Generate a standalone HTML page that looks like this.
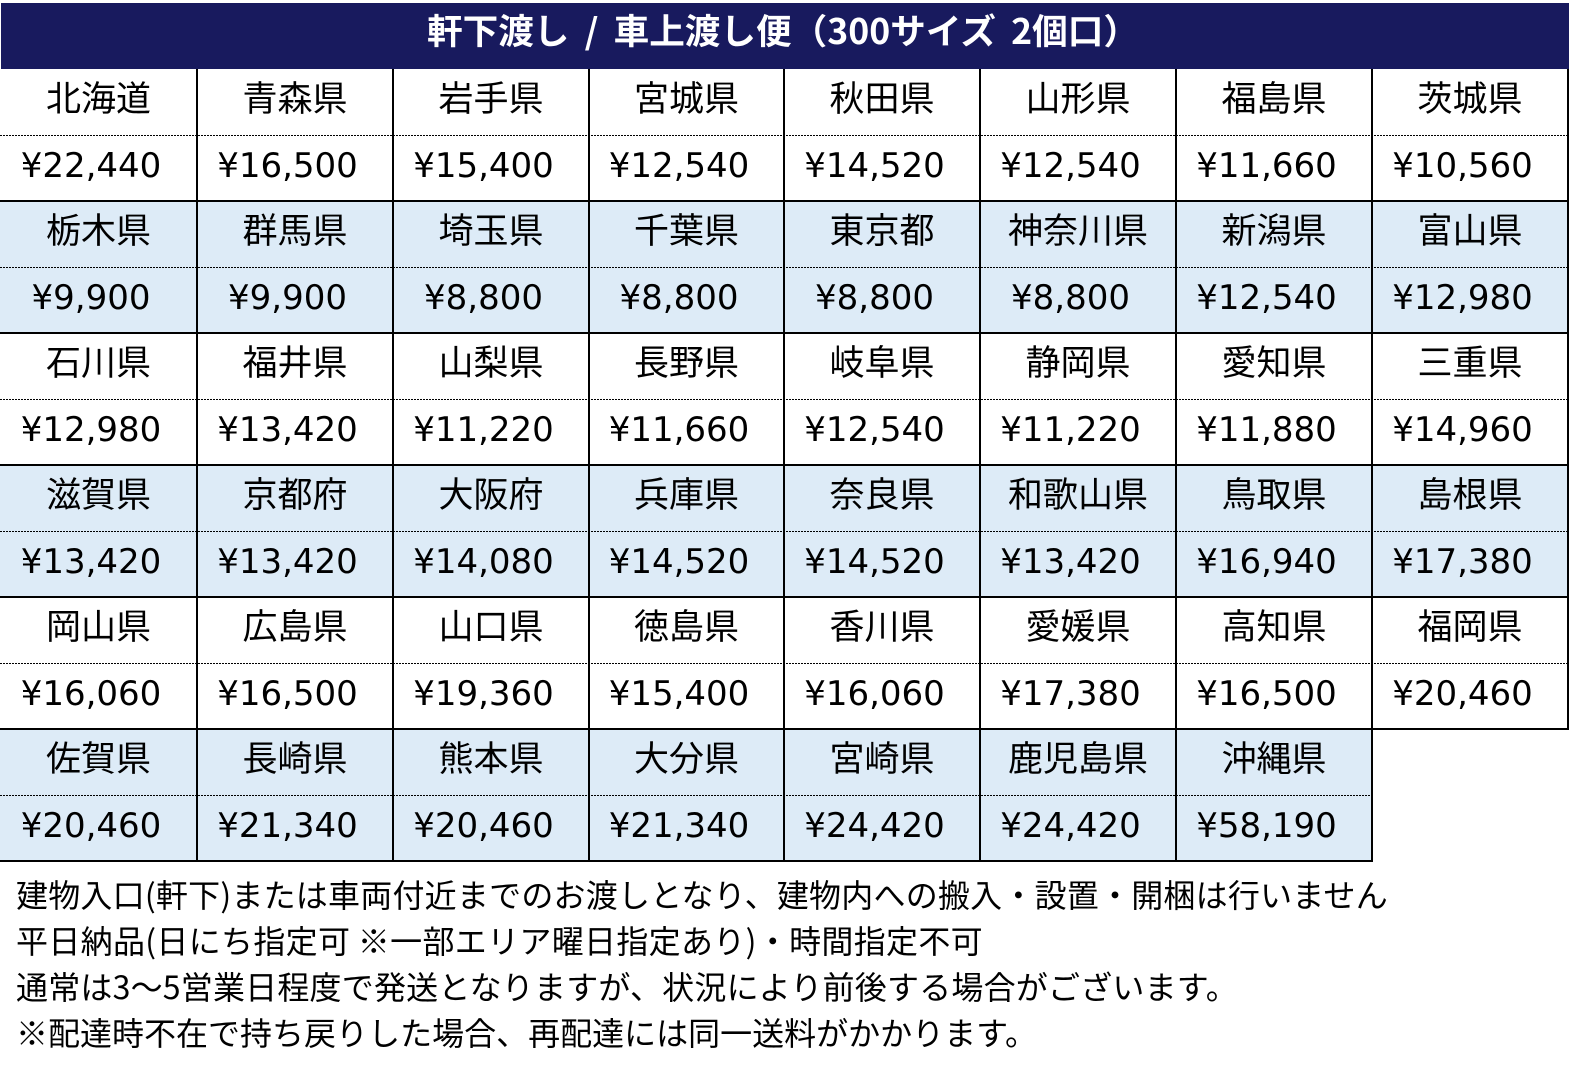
<!DOCTYPE html>
<html lang="ja">
<head>
<meta charset="utf-8">
<style>
*{margin:0;padding:0;box-sizing:border-box}
html,body{width:1575px;height:1077px;background:#fff;overflow:hidden}
body{position:relative;font-family:"Liberation Sans","Noto Sans CJK JP",sans-serif;color:#000}
.abs{position:absolute}
.hdr{position:absolute;left:1px;top:3px;width:1568px;height:66px;background:#181a5e}
.htxt{position:absolute;left:427px;top:10px;height:40px;line-height:40px;font-family:"Noto Sans CJK JP",sans-serif;font-weight:bold;font-size:35px;color:#fff;white-space:nowrap;transform-origin:0 50%;word-spacing:7px}
.band{position:absolute;left:0;height:132px;background:#ddebf7}
.row{position:absolute;left:0;height:66px;display:flex}
.row div{flex:none;height:66px;line-height:66px;text-align:center;white-space:nowrap}
.nm div{font-family:"Noto Sans CJK JP",sans-serif;font-size:35px}
.pr div{font-family:"DejaVu Sans",sans-serif;font-size:34px;padding-right:15px}
.c1{width:197px}.c2{width:196px}.c3{width:196px}.c4{width:195px}.c5{width:196px}.c6{width:196px}.c7{width:196px}.c8{width:196px}
.hl{position:absolute;height:2px;background:#000}
.dl{position:absolute;height:1px;background:repeating-linear-gradient(90deg,#000 0 2px,transparent 2px 3px)}
.vl{position:absolute;width:2px;background:#000}
.ft{position:absolute;left:16px;height:46px;line-height:46px;font-family:"Noto Sans CJK JP",sans-serif;font-size:32px;white-space:nowrap}
</style>
</head>
<body>
<div class="hdr"></div>
<div class="htxt" id="ht">軒下渡し / 車上渡し便（300サイズ 2個口）</div>

<!-- blue bands -->
<div class="band" style="top:201px;width:1568px"></div>
<div class="band" style="top:465px;width:1568px"></div>
<div class="band" style="top:729px;width:1372px"></div>

<!-- block 1 -->
<div class="row nm" style="top:64px"><div class="c1">北海道</div><div class="c2">青森県</div><div class="c3">岩手県</div><div class="c4">宮城県</div><div class="c5">秋田県</div><div class="c6">山形県</div><div class="c7">福島県</div><div class="c8">茨城県</div></div>
<div class="row pr" style="top:133px"><div class="c1">¥22,440</div><div class="c2">¥16,500</div><div class="c3">¥15,400</div><div class="c4">¥12,540</div><div class="c5">¥14,520</div><div class="c6">¥12,540</div><div class="c7">¥11,660</div><div class="c8">¥10,560</div></div>
<!-- block 2 -->
<div class="row nm" style="top:196px"><div class="c1">栃木県</div><div class="c2">群馬県</div><div class="c3">埼玉県</div><div class="c4">千葉県</div><div class="c5">東京都</div><div class="c6">神奈川県</div><div class="c7">新潟県</div><div class="c8">富山県</div></div>
<div class="row pr" style="top:265px"><div class="c1">¥9,900</div><div class="c2">¥9,900</div><div class="c3">¥8,800</div><div class="c4">¥8,800</div><div class="c5">¥8,800</div><div class="c6">¥8,800</div><div class="c7">¥12,540</div><div class="c8">¥12,980</div></div>
<!-- block 3 -->
<div class="row nm" style="top:328px"><div class="c1">石川県</div><div class="c2">福井県</div><div class="c3">山梨県</div><div class="c4">長野県</div><div class="c5">岐阜県</div><div class="c6">静岡県</div><div class="c7">愛知県</div><div class="c8">三重県</div></div>
<div class="row pr" style="top:397px"><div class="c1">¥12,980</div><div class="c2">¥13,420</div><div class="c3">¥11,220</div><div class="c4">¥11,660</div><div class="c5">¥12,540</div><div class="c6">¥11,220</div><div class="c7">¥11,880</div><div class="c8">¥14,960</div></div>
<!-- block 4 -->
<div class="row nm" style="top:460px"><div class="c1">滋賀県</div><div class="c2">京都府</div><div class="c3">大阪府</div><div class="c4">兵庫県</div><div class="c5">奈良県</div><div class="c6">和歌山県</div><div class="c7">鳥取県</div><div class="c8">島根県</div></div>
<div class="row pr" style="top:529px"><div class="c1">¥13,420</div><div class="c2">¥13,420</div><div class="c3">¥14,080</div><div class="c4">¥14,520</div><div class="c5">¥14,520</div><div class="c6">¥13,420</div><div class="c7">¥16,940</div><div class="c8">¥17,380</div></div>
<!-- block 5 -->
<div class="row nm" style="top:592px"><div class="c1">岡山県</div><div class="c2">広島県</div><div class="c3">山口県</div><div class="c4">徳島県</div><div class="c5">香川県</div><div class="c6">愛媛県</div><div class="c7">高知県</div><div class="c8">福岡県</div></div>
<div class="row pr" style="top:661px"><div class="c1">¥16,060</div><div class="c2">¥16,500</div><div class="c3">¥19,360</div><div class="c4">¥15,400</div><div class="c5">¥16,060</div><div class="c6">¥17,380</div><div class="c7">¥16,500</div><div class="c8">¥20,460</div></div>
<!-- block 6 -->
<div class="row nm" style="top:724px"><div class="c1">佐賀県</div><div class="c2">長崎県</div><div class="c3">熊本県</div><div class="c4">大分県</div><div class="c5">宮崎県</div><div class="c6">鹿児島県</div><div class="c7">沖縄県</div></div>
<div class="row pr" style="top:793px"><div class="c1">¥20,460</div><div class="c2">¥21,340</div><div class="c3">¥20,460</div><div class="c4">¥21,340</div><div class="c5">¥24,420</div><div class="c6">¥24,420</div><div class="c7">¥58,190</div></div>

<!-- dotted lines -->
<div class="dl" style="top:135px;left:0;width:1568px"></div>
<div class="dl" style="top:267px;left:0;width:1568px"></div>
<div class="dl" style="top:399px;left:0;width:1568px"></div>
<div class="dl" style="top:531px;left:0;width:1568px"></div>
<div class="dl" style="top:663px;left:0;width:1568px"></div>
<div class="dl" style="top:795px;left:0;width:1372px"></div>

<!-- solid horizontal lines -->
<div class="hl" style="top:200px;left:0;width:1569px"></div>
<div class="hl" style="top:332px;left:0;width:1569px"></div>
<div class="hl" style="top:464px;left:0;width:1569px"></div>
<div class="hl" style="top:596px;left:0;width:1569px"></div>
<div class="hl" style="top:728px;left:0;width:1569px"></div>
<div class="hl" style="top:860px;left:0;width:1373px"></div>

<!-- vertical lines -->
<div class="vl" style="left:196px;top:69px;height:793px"></div>
<div class="vl" style="left:392px;top:69px;height:793px"></div>
<div class="vl" style="left:588px;top:69px;height:793px"></div>
<div class="vl" style="left:783px;top:69px;height:793px"></div>
<div class="vl" style="left:979px;top:69px;height:793px"></div>
<div class="vl" style="left:1175px;top:69px;height:793px"></div>
<div class="vl" style="left:1371px;top:69px;height:793px"></div>
<div class="vl" style="left:1567px;top:69px;height:661px"></div>

<!-- footer -->
<div class="ft" id="f1" style="top:871px">建物入口(軒下)または車両付近までのお渡しとなり、建物内への搬入・設置・開梱は行いません</div>
<div class="ft" id="f2" style="top:917px">平日納品(日にち指定可 ※一部エリア曜日指定あり)・時間指定不可</div>
<div class="ft" id="f3" style="top:963px">通常は3～5営業日程度で発送となりますが、状況により前後する場合がございます。</div>
<div class="ft" id="f4" style="top:1009px">※配達時不在で持ち戻りした場合、再配達には同一送料がかかります。</div>

<script>
(function(){
  var t=[["f1",1372],["f2",967],["f3",1222],["f4",1021]];
  t.forEach(function(p){
    var el=document.getElementById(p[0]);
    var w=el.getBoundingClientRect().width;
    var n=el.textContent.length;
    if(w>0&&n>0){el.style.letterSpacing=((p[1]-w)/n)+"px";}
  });
  var h=document.getElementById("ht");
  var hw=h.getBoundingClientRect().width;
  if(hw>0){h.style.transform="scaleX("+(712/hw)+")";}
})();
</script>
</body>
</html>
